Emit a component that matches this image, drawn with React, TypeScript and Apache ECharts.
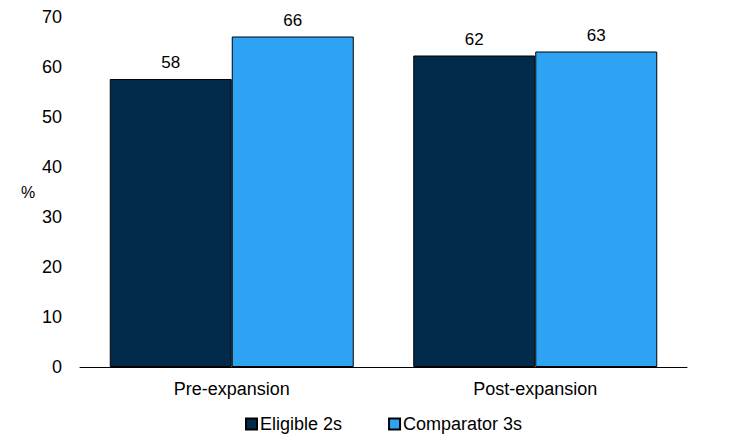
import React, { useEffect, useRef } from "react";
import * as echarts from "echarts";

const categories = ["Pre-expansion", "Post-expansion"];
const eligible2s = [57.6, 62.3];
const comparator3s = [66.1, 63.1];
const seriesNames = ["Eligible 2s", "Comparator 3s"];

const FONT = "'Liberation Sans', Arial, sans-serif";

const App = () => {
  const chartRef = useRef<HTMLDivElement | null>(null);

  useEffect(() => {
    if (!chartRef.current) return;
    document.body.style.margin = "0";
    const myChart = echarts.init(chartRef.current, null, { renderer: "svg" });

    const label = {
      show: true,
      position: "top",
      distance: 8,
      color: "#000",
      fontSize: 17,
      fontFamily: FONT,
      formatter: (p: any) => String(Math.round(p.value)),
    };

    const option = {
      animation: false,
      backgroundColor: "#fff",
      grid: { left: 80, right: 69, top: 17, bottom: 78, containLabel: false },
      graphic: [
        {
          type: "text",
          left: 21,
          top: 184,
          style: { text: "%", fill: "#000", fontSize: 16, fontFamily: FONT },
        },
      ],
      legend: {
        data: seriesNames,
        top: 410,
        left: 240,
        icon: "rect",
        itemWidth: 11,
        itemHeight: 11,
        itemGap: 46,
        textStyle: { color: "#000", fontSize: 18, fontFamily: FONT, padding: [0, 0, 0, -2] },
      },
      xAxis: {
        type: "category",
        data: categories,
        axisLine: { show: true, lineStyle: { color: "#000", width: 1 } },
        axisTick: { show: false },
        axisLabel: { color: "#000", fontSize: 18, fontFamily: FONT, margin: 13 },
      },
      yAxis: {
        type: "value",
        min: 0,
        max: 70,
        interval: 10,
        axisLine: { show: false },
        axisTick: { show: false },
        splitLine: { show: false },
        axisLabel: { color: "#000", fontSize: 18, fontFamily: FONT, margin: 18 },
      },
      series: [
        {
          name: seriesNames[0],
          type: "bar",
          data: eligible2s,
          barWidth: 122,
          barGap: "0%",
          itemStyle: { color: "#022b4b", borderColor: "#000", borderWidth: 1 },
          label,
        },
        {
          name: seriesNames[1],
          type: "bar",
          data: comparator3s,
          barWidth: 122,
          barGap: "0%",
          itemStyle: { color: "#2ea2f3", borderColor: "#000", borderWidth: 1 },
          label,
        },
      ],
    };

    myChart.setOption(option as any);

    return () => {
      myChart.dispose();
    };
  }, []);

  return <div ref={chartRef} style={{ width: "756px", height: "445px" }}></div>;
};

export default App;
